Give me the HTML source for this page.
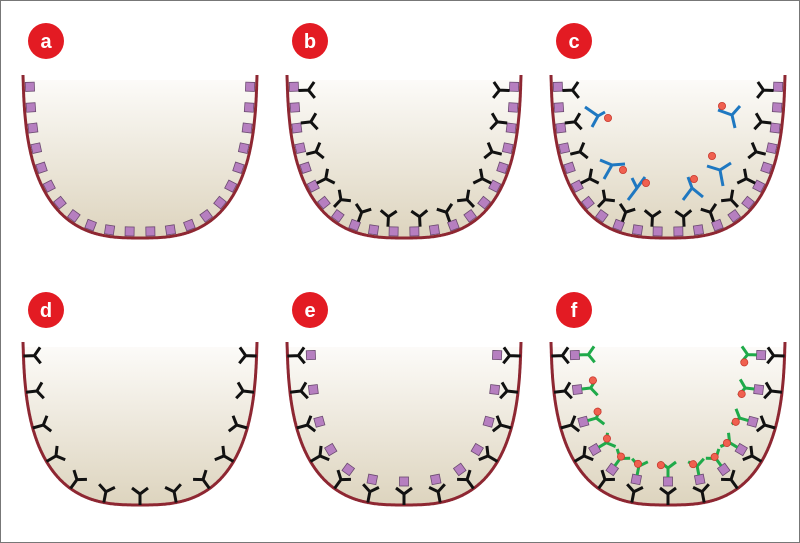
<!DOCTYPE html>
<html><head><meta charset="utf-8"><style>
html,body{margin:0;padding:0;background:#fff}
svg{display:block}
</style></head><body>
<svg id="s" width="800" height="543" viewBox="0 0 800 543" xmlns="http://www.w3.org/2000/svg">
<defs>
<linearGradient id="g" x1="0" y1="0" x2="0" y2="1">
<stop offset="0" stop-color="#fdfcfa"/><stop offset="1" stop-color="#ddd4be"/>
</linearGradient>
</defs>
<rect x="0.5" y="0.5" width="799" height="542" fill="#fff" stroke="#777"/>
<g id="root"></g>
<g font-family="Liberation Sans, sans-serif" font-weight="bold" font-size="20" fill="#fff" text-anchor="middle">
<circle cx="46" cy="41" r="18" fill="#e31b23"/><text x="46" y="48">a</text>
<circle cx="310" cy="41" r="18" fill="#e31b23"/><text x="310" y="48">b</text>
<circle cx="574" cy="41" r="18" fill="#e31b23"/><text x="574" y="48">c</text>
<circle cx="46" cy="310" r="18" fill="#e31b23"/><text x="46" y="317">d</text>
<circle cx="310" cy="310" r="18" fill="#e31b23"/><text x="310" y="317">e</text>
<circle cx="574" cy="310" r="18" fill="#e31b23"/><text x="574" y="317">f</text>
</g>
</svg>
<script>
var NS="http://www.w3.org/2000/svg",root=document.getElementById('root');
var W=234,H=163,N=2.8;
function curve(){var p=[];for(var i=0;i<=600;i++){var th=Math.PI*i/600,c=Math.cos(th),s=Math.sin(th);
var xx=117*Math.sign(c)*Math.pow(Math.abs(c),2/N);var yy=H*Math.pow(s,2/N);
xx*= (1-0.04*yy/H);
p.push([117-xx,yy]);}return p;}
var P=curve(),L=[0];for(var i=1;i<P.length;i++)L.push(L[i-1]+Math.hypot(P[i][0]-P[i-1][0],P[i][1]-P[i-1][1]));
var TOT=L[L.length-1];
function at(s){var i=1;while(i<L.length-1&&L[i]<s)i++;var a=P[i-1],b=P[i],f=(s-L[i-1])/((L[i]-L[i-1])||1);
var tx=b[0]-a[0],ty=b[1]-a[1];return {x:a[0]+f*tx,y:a[1]+f*ty,ang:Math.atan2(ty,tx)*180/Math.PI};}
function el(t,at,par){var e=document.createElementNS(NS,t);for(var k in at)e.setAttribute(k,at[k]);(par||root).appendChild(e);return e;}
function well(ox,oy){var d='M'+(ox+P[0][0])+' '+(oy+P[0][1]);P.forEach(function(q){d+=' L'+(ox+q[0]).toFixed(1)+' '+(oy+q[1]).toFixed(1)});
var g=el('g',{});el('path',{d:d+' Z',fill:'url(#g)',stroke:'none'},g);
el('rect',{x:ox-2,y:oy-2,width:W+4,height:7,fill:'#fff'},g);
el('path',{d:d,fill:'none',stroke:'#8e2732','stroke-width':3},g);}
function place(ox,oy,s,fn){var q=at(s);var g=el('g',{transform:'translate('+(ox+q.x).toFixed(1)+','+(oy+q.y).toFixed(1)+') rotate('+q.ang.toFixed(1)+')'});fn(g);}
function sq(g,d){el('rect',{x:-4.5,y:-d-9,width:9,height:9,fill:'#b67fc0',stroke:'#6b4a70','stroke-width':0.8},g);}
function Y(g,d,col,len){len=len||10;el('path',{d:'M0 '+(-d)+' L0 '+(-d-len)+' M-8 '+(-d-len-6)+' L0 '+(-d-len)+' L8 '+(-d-len-6),fill:'none',stroke:col,'stroke-width':3},g);}
function dot(g,x,y){el('circle',{cx:x,cy:y,r:3.6,fill:'#f0604f',stroke:'#c83a30','stroke-width':0.8},g);}
function each(n,s0,fn){var s1=TOT-s0;for(var i=0;i<n;i++)fn(s0+(s1-s0)*i/(n-1));}
var O=[[23,75],[287,75],[551,75],[23,342],[287,342],[551,342]];
O.forEach(function(o){well(o[0],o[1]);});
each(22,12,function(s){place(23,75,s,function(g){sq(g,2)})});
[1,2].forEach(function(k){var o=O[k];each(22,12,function(s){place(o[0],o[1],s,function(g){sq(g,2)})});
each(14,16,function(s){place(o[0],o[1],s,function(g){Y(g,11,'#111')})});});
var c=[[598,116,585,107,605,112,592,127,608,118],[732,115,718,110,740,106,735,128,722,106],[612,165,600,160,625,164,604,179,623,170],[637,188,645,177,632,178,628,200,646,183],[692,188,688,177,703,197,683,200,694,179],[720,170,707,166,731,163,723,186,712,156]];
c.forEach(function(b){el('path',{d:'M'+b[2]+' '+b[3]+' L'+b[0]+' '+b[1]+' L'+b[4]+' '+b[5]+' M'+b[0]+' '+b[1]+' L'+b[6]+' '+b[7],fill:'none',stroke:'#1f78c1','stroke-width':3});dot(root,b[8],b[9]);});
each(13,14,function(s){place(23,342,s,function(g){Y(g,0,'#111',11)})});
each(13,14,function(s){place(287,342,s,function(g){Y(g,0,'#111',11);sq(g,19)})});
each(13,14,function(s){place(551,342,s,function(g){Y(g,0,'#111',11);sq(g,19);Y(g,28,'#1faa4a',9)})});
each(12,32,function(s){place(551,342,s,function(g){dot(g,9,-40)})});
</script>
</body></html>
